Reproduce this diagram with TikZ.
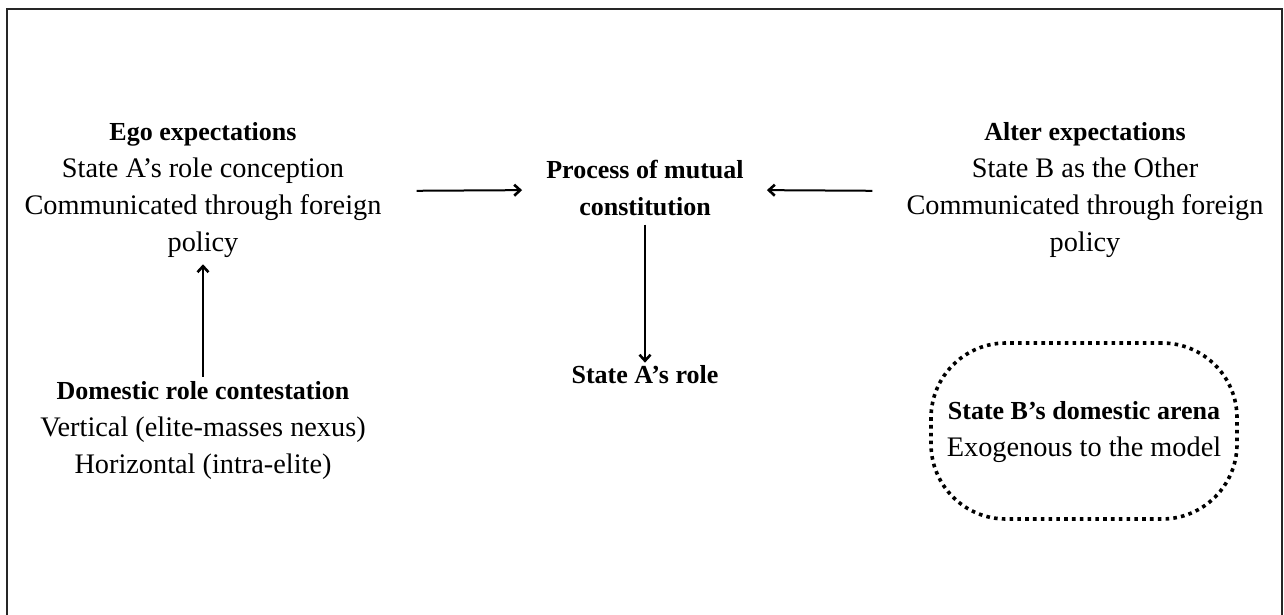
\documentclass[tikz,border=0pt]{standalone}
\usepackage{fontspec}
\setmainfont{Liberation Serif}
\usetikzlibrary{arrows.meta}
% heading lines are set slightly smaller than the body lines
\newcommand{\hd}[1]{{\fontsize{26}{37}\selectfont\bfseries #1}}
\begin{document}
\begin{tikzpicture}[x=1pt,y=-1pt,
  txt/.style={align=center, font=\fontsize{28.3}{37}\selectfont, inner sep=0pt},
  arr/.style={-{Straight Barb[length=6pt,width=11pt,line width=2.6pt]}, line width=2pt},
  frame/.style={line width=2pt, draw=black!85},
  arena/.style={draw, line width=3.6pt, dash pattern=on 3.6pt off 4.2pt,
    rounded corners=75pt, minimum width=306pt, minimum height=176pt, inner sep=0pt}]
\useasboundingbox (0,0) rectangle (1284,615);
% outer frame, open at the bottom edge of the page
\draw[frame] (7,640) -- (7,9) -- (1282,9) -- (1282,640);

\node[txt] (ego) at (203,190.5) {\hd{Ego expectations}\\State A’s role conception\\Communicated through foreign\\policy};
\node[txt] (alter) at (1085,190.5) {\hd{Alter expectations}\\State B as the Other\\Communicated through foreign\\policy};
\node[txt] (proc) at (645,188.5) {\hd{Process of mutual}\\\hd{constitution}};
\node[txt] (role) at (645,375) {\hd{State A’s role}};
\node[txt] (dom) at (203,430) {\hd{Domestic role contestation}\\Vertical (elite-masses nexus)\\Horizontal (intra-elite)};
\node[arena] (arena) at (1084,431) {};
\node[txt] (arenatxt) at ([yshift=-1pt]arena.center) {\hd{State B’s domestic arena}\\Exogenous to the model};

\draw[arr, shorten <=35pt, shorten >=24pt] ([yshift=-0.5pt]ego.east) -- ([yshift=-1.5pt]proc.west);
\draw[arr, shorten <=34pt, shorten >=23pt] ([yshift=-0.5pt]alter.west) -- ([yshift=-1.5pt]proc.east);
\draw[arr, shorten <=8pt, shorten >=3pt] (proc.south) -- (role.north);
\draw[arr, shorten <=4pt, shorten >=6pt] (dom.north) -- (dom.north |- ego.south);
\end{tikzpicture}
\end{document}
